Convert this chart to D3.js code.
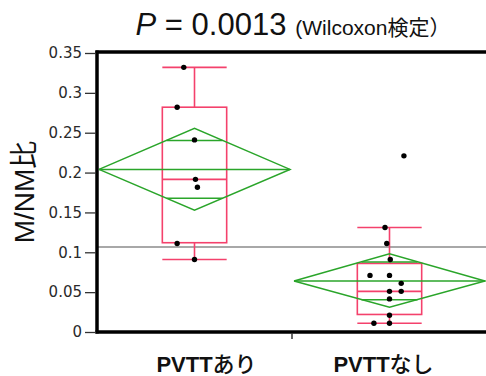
<!DOCTYPE html>
<html><head><meta charset="utf-8">
<script src="https://cdn.jsdelivr.net/npm/d3@7"></script>
<style>
html,body{margin:0;padding:0;background:#fff;}
svg{display:block;}
</style></head>
<body>
<svg id="chart" width="486" height="376"></svg>
<script>
// ---------- data ----------
const categories = ["PVTTあり", "PVTTなし"];
const valuesAri  = [0.332, 0.282, 0.241, 0.1915, 0.1815, 0.111, 0.091];
const jitterAri  = [-0.055, -0.089, 0, 0.005, 0.015, -0.089, 0];
const valuesNashi = [0.221, 0.131, 0.111, 0.091, 0.071, 0.071, 0.061, 0.051, 0.051, 0.0415, 0.021, 0.011, 0.011];
const jitterNashi = [0.074, -0.023, -0.014, 0.004, -0.1, 0, 0.06, 0, 0.06, 0, 0, -0.08, 0];
const whiskerLow  = [0.091, 0.011];
const q1          = [0.112, 0.022];
const median      = [0.1915, 0.051];
const q3          = [0.282, 0.086];
const whiskerHigh = [0.332, 0.131];
const means  = [0.204, 0.064];
const ciLow  = [0.1527, 0.031];
const ciHigh = [0.2555, 0.098];
const grandMean = 0.1066;
const yTicks = [0, 0.05, 0.1, 0.15, 0.2, 0.25, 0.3, 0.35];
const yTickLabels = ["0", "0.05", "0.1", "0.15", "0.2", "0.25", "0.3", "0.35"];
const titleP = "P";
const titleValue = " = 0.0013";
const titleTest = " (Wilcoxon検定）";
const yTitle = "M/NM比";

// ---------- layout ----------
const svg = d3.select("#chart");
const pLeft = 97, pRight = 487, pTop = 53, pBottom = 332;
const y = d3.scaleLinear().domain([0, 0.35]).range([pBottom, pTop]);
const x = d3.scaleBand().domain(categories).range([pLeft, pRight]).padding(0);
const bw = x.bandwidth();

const pink = "#f4416c";
const green = "#2aa52a";

// grand mean line
svg.append("line")
  .attr("x1", pLeft + 1).attr("x2", 486)
  .attr("y1", y(grandMean)).attr("y2", y(grandMean))
  .attr("stroke", "#a8a8a8").attr("stroke-width", 2);

// boxes
const boxW = bw * 0.33;
categories.forEach((c, i) => {
  const cx = x(c) + bw / 2;
  const g = svg.append("g").attr("fill", "none").attr("stroke", pink).attr("stroke-width", 1.6);
  g.append("rect").attr("x", cx - boxW / 2).attr("y", y(q3[i]))
    .attr("width", boxW).attr("height", y(q1[i]) - y(q3[i]));
  g.append("line").attr("x1", cx - boxW / 2).attr("x2", cx + boxW / 2)
    .attr("y1", y(median[i])).attr("y2", y(median[i]));
  g.append("line").attr("x1", cx).attr("x2", cx).attr("y1", y(q3[i])).attr("y2", y(whiskerHigh[i]));
  g.append("line").attr("x1", cx).attr("x2", cx).attr("y1", y(q1[i])).attr("y2", y(whiskerLow[i]));
  [whiskerHigh[i], whiskerLow[i]].forEach(v => {
    g.append("line").attr("x1", cx - boxW / 2).attr("x2", cx + boxW / 2)
      .attr("y1", y(v)).attr("y2", y(v));
  });
});

// means diamonds
categories.forEach((c, i) => {
  const cx = x(c) + bw / 2;
  const x0 = x(c) + 2, x1 = x(c) + bw - 2;
  const g = svg.append("g").attr("fill", "none").attr("stroke", green).attr("stroke-width", 1.5);
  g.append("path").attr("d", d3.line()([
    [x0, y(means[i])], [cx, y(ciHigh[i])], [x1, y(means[i])], [cx, y(ciLow[i])], [x0, y(means[i])]
  ]));
  g.append("line").attr("x1", x0).attr("x2", x1).attr("y1", y(means[i])).attr("y2", y(means[i]));
  const half = (ciHigh[i] - ciLow[i]) / 2;
  const d = half / Math.SQRT2;
  const hw = (x1 - x0) / 2 * (1 - d / half);
  [means[i] + d, means[i] - d].forEach(v => {
    g.append("line").attr("x1", cx - hw).attr("x2", cx + hw).attr("y1", y(v)).attr("y2", y(v));
  });
});

// points
const groups = [[valuesAri, jitterAri], [valuesNashi, jitterNashi]];
groups.forEach(([vals, jit], i) => {
  const cx = x(categories[i]) + bw / 2;
  svg.append("g").selectAll("circle").data(vals).join("circle")
    .attr("cx", (d, k) => cx + jit[k] * bw)
    .attr("cy", d => y(d))
    .attr("r", 2.7)
    .attr("fill", "#000");
});

// frame
svg.append("line").attr("x1", pLeft - 1.5).attr("x2", 486).attr("y1", pTop - 1).attr("y2", pTop - 1)
  .attr("stroke", "#000").attr("stroke-width", 3.5);
svg.append("line").attr("x1", pLeft - 1.5).attr("x2", 486).attr("y1", pBottom).attr("y2", pBottom)
  .attr("stroke", "#000").attr("stroke-width", 3.5);
svg.append("line").attr("x1", pLeft).attr("x2", pLeft).attr("y1", pTop - 2.5).attr("y2", pBottom + 1.5)
  .attr("stroke", "#000").attr("stroke-width", 3.5);

// y axis ticks
const yAxis = d3.axisLeft(y).tickValues(yTicks).tickFormat((d, k) => yTickLabels[k])
  .tickSize(11).tickPadding(3);
const ya = svg.append("g").attr("transform", `translate(${pLeft - 1},0)`).call(yAxis);
ya.select(".domain").remove();
ya.selectAll(".tick line").attr("stroke", "#333").attr("stroke-width", 1.3);
ya.selectAll(".tick text").attr("font-family", "DejaVu Sans").attr("font-size", 15).attr("fill", "#2a2a2a");

// x tick (group separator)
svg.append("line").attr("x1", x(categories[1])).attr("x2", x(categories[1]))
  .attr("y1", pBottom + 1).attr("y2", pBottom + 7).attr("stroke", "#333").attr("stroke-width", 1.5);

// x labels (latin part bold, kana part medium weight)
const labelDx = [12, -6];
categories.forEach((c, i) => {
  const m = c.match(/^([A-Za-z]+)(.*)$/);
  const tx = svg.append("text").attr("x", x(c) + bw / 2 + labelDx[i]).attr("y", 372)
    .attr("text-anchor", "middle")
    .attr("font-family", "Liberation Sans, Noto Sans CJK JP, sans-serif")
    .attr("font-size", 22).attr("fill", "#111");
  tx.append("tspan").attr("font-weight", "bold").text(m[1]);
  tx.append("tspan").attr("font-weight", 500).text(m[2]);
});

// y title
svg.append("text").attr("transform", `translate(34,192) rotate(-90)`)
  .attr("text-anchor", "middle")
  .attr("font-family", "Liberation Sans, Noto Sans CJK JP, sans-serif")
  .attr("font-size", 28).attr("fill", "#111")
  .text(yTitle);

// title
const t = svg.append("text").attr("x", (pLeft + pRight) / 2 + 1).attr("y", 35)
  .attr("text-anchor", "middle")
  .attr("font-family", "Liberation Sans, Noto Sans CJK JP, sans-serif")
  .attr("fill", "#111");
t.append("tspan").attr("font-size", 31).attr("font-style", "italic").text(titleP);
t.append("tspan").attr("font-size", 31).text(titleValue);
t.append("tspan").attr("font-size", 21).attr("dx", 3).text(titleTest);
</script>
</body></html>
